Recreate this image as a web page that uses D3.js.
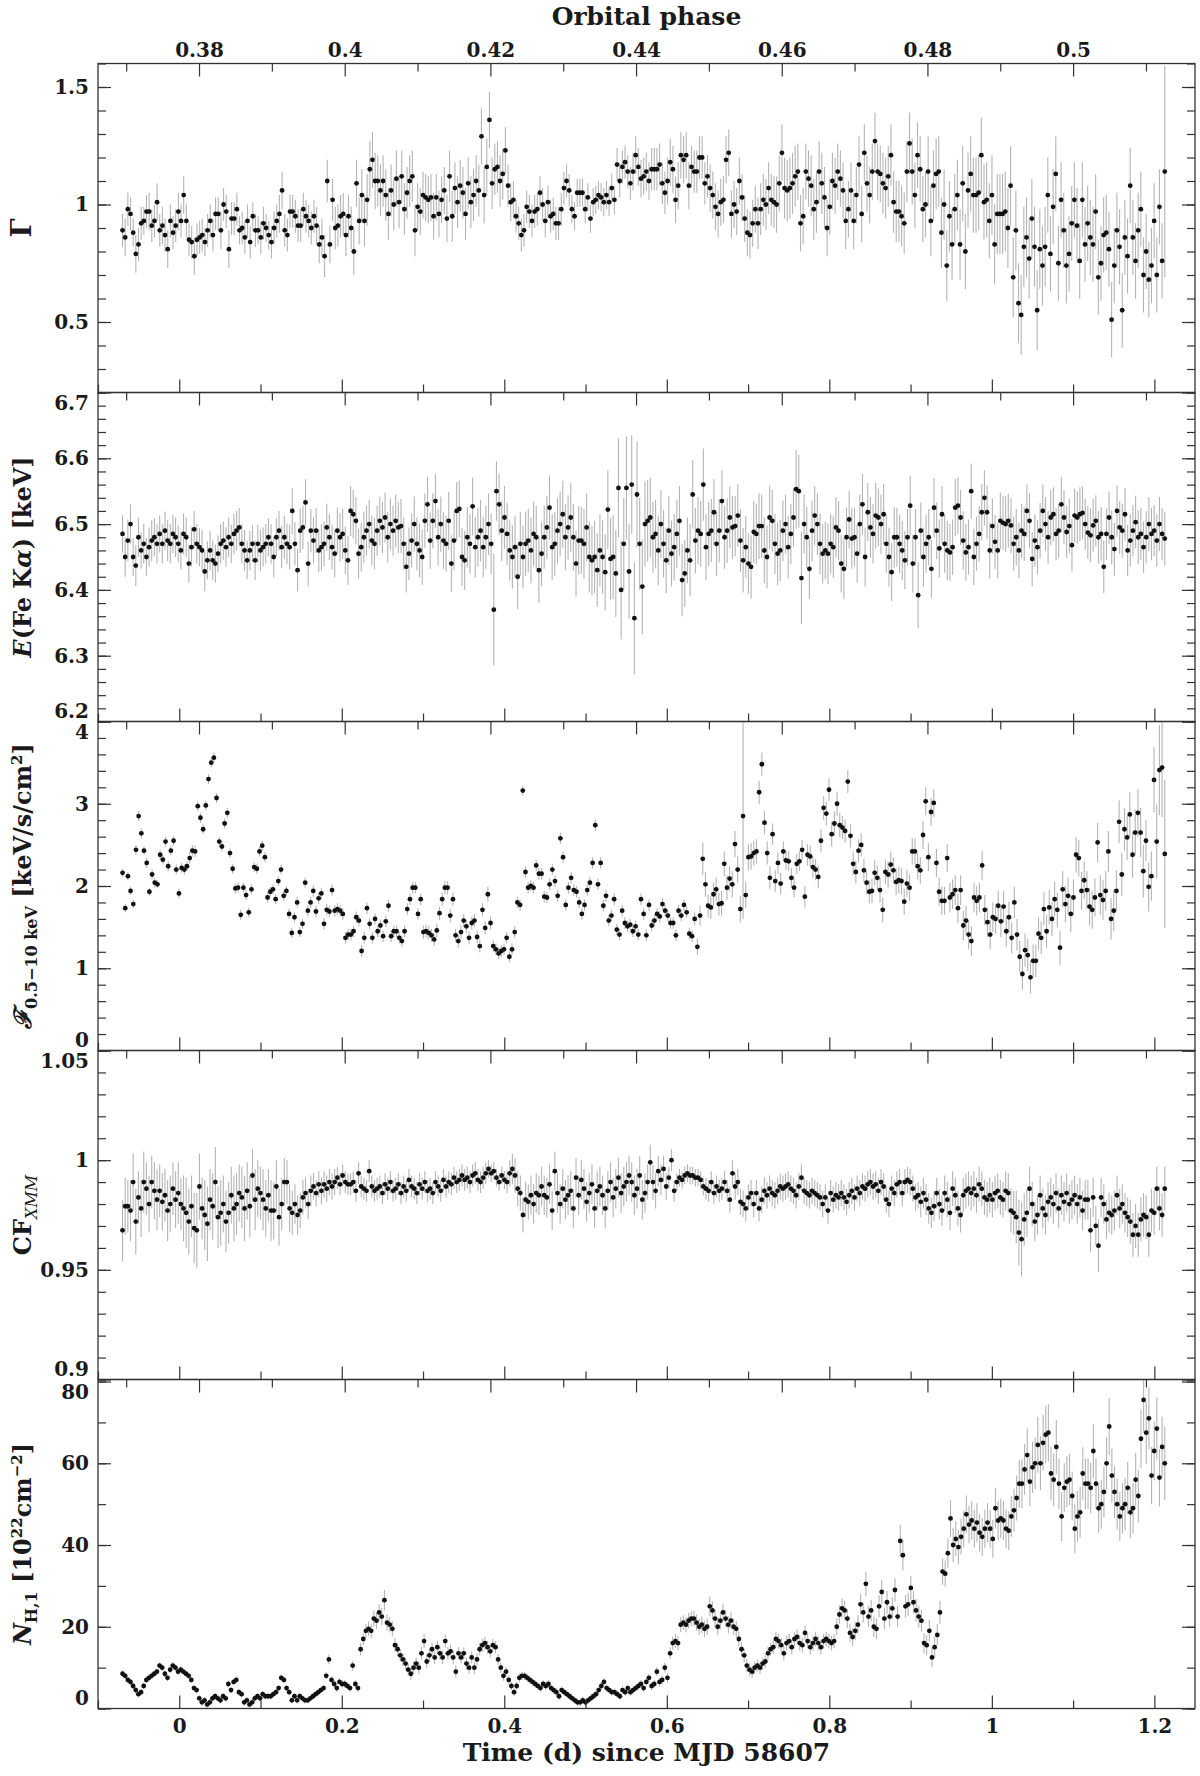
<!DOCTYPE html>
<meta charset="utf-8">
<script src="https://d3js.org/d3.v7.min.js"></script>
<style>
  body { margin: 0; background: #fff; }
</style>
<div id="my_dataviz"></div>
<script>

// time grid: centre of first and last bin, days since MJD 58607 (bins are evenly spaced)
const tFirst = -0.0698, tLast = 1.2128;
// ephemeris for the orbital phase axis on top
const orbitalPeriod = 8.964, phaseRefTime = 1.1, phaseRefPhase = 0.5;

// axis ticks
const timeMajor = [0, 0.2, 0.4, 0.6, 0.8, 1, 1.2];
const timeMinor = [-0.1, 0.1, 0.3, 0.5, 0.7, 0.9, 1.1];
const phaseMajor = [0.38, 0.40, 0.42, 0.44, 0.46, 0.48, 0.50];
const phaseMinor = [0.37, 0.39, 0.41, 0.43, 0.45, 0.47, 0.49, 0.51];

const gammaTicks = [0.5, 1, 1.5];
const energyTicks = [6.2, 6.3, 6.4, 6.5, 6.6, 6.7];
const fluxTicks = [0, 1, 2, 3, 4];
const cfTicks = [0.9, 0.95, 1, 1.05];
const nhTicks = [0, 20, 40, 60, 80];

// photon index
const gamma = [
  0.89,0.86,0.98,0.96,0.88,0.79,0.83,0.92,0.93,0.97,0.97,0.91,0.93,1.01,0.89,0.91,0.87,0.81,0.93,0.88,
  0.91,0.97,0.93,1.04,0.93,0.85,0.84,0.78,0.85,0.86,0.87,0.84,0.89,0.93,0.87,0.96,0.96,0.89,1.0,0.97,
  0.81,0.94,0.94,0.98,0.89,0.9,0.86,0.93,0.84,0.95,0.89,0.89,0.86,0.92,0.9,0.87,0.84,0.9,0.93,0.96,
  1.06,0.89,0.87,0.97,0.97,0.95,0.91,0.91,0.98,0.95,0.93,0.9,0.95,0.91,0.83,0.86,0.78,1.1,0.83,1.02,
  0.9,0.91,0.95,0.96,0.87,0.95,0.9,0.8,1.09,0.93,1.04,0.93,1.02,1.15,1.19,1.1,1.1,1.06,1.1,1.04,
  0.96,1.06,1.0,1.11,1.01,1.12,0.98,1.05,1.1,1.12,0.89,0.99,0.97,1.04,1.03,1.02,1.03,0.95,1.03,0.96,
  1.02,1.06,0.94,1.12,0.95,1.07,1.01,1.08,1.05,0.96,1.09,1.01,1.04,1.1,1.06,1.29,1.04,1.16,1.36,1.09,
  1.15,1.16,1.1,1.13,1.23,1.08,1.01,1.02,0.95,0.92,0.87,0.89,0.99,0.97,0.93,0.97,0.98,1.05,1.0,0.93,
  1.01,0.95,0.96,0.92,0.92,0.98,1.07,1.1,1.06,0.98,0.95,1.05,1.05,1.05,0.98,1.03,0.94,1.01,1.02,1.04,
  1.03,1.01,1.04,1.01,1.07,1.02,1.17,1.1,1.16,1.18,1.14,1.09,1.14,1.21,1.16,1.11,1.12,1.14,1.1,1.15,
  1.15,1.15,1.17,1.09,1.05,1.1,1.18,1.15,1.02,1.08,1.21,1.19,1.21,1.08,1.16,1.14,1.14,1.2,1.2,1.09,
  1.12,1.07,1.04,0.99,0.96,1.01,1.02,1.19,1.22,0.96,1.0,0.97,1.1,1.03,0.94,0.88,0.87,0.92,0.98,0.92,
  0.98,1.02,1.0,1.07,1.02,1.01,1.0,1.09,1.22,1.07,1.06,1.07,1.09,1.12,1.14,0.92,0.95,1.14,1.11,1.08,
  0.98,1.01,1.14,1.09,1.03,0.9,0.99,1.1,1.08,1.14,1.11,1.06,0.93,0.98,1.06,0.93,1.04,1.17,0.96,1.22,
  1.09,1.04,1.14,1.27,1.14,1.13,1.09,1.07,1.12,1.21,1.01,0.97,0.97,0.95,0.92,1.14,1.26,1.14,1.04,1.21,
  1.15,0.98,1.0,1.14,0.93,1.08,1.13,1.14,0.88,1.0,0.74,0.95,0.83,0.98,1.04,0.83,1.09,0.8,1.06,1.13,
  1.04,1.04,1.05,1.21,1.01,1.02,0.93,1.04,0.83,0.96,0.96,0.96,0.97,0.9,1.08,0.69,0.89,0.58,0.53,0.82,
  0.86,0.77,0.94,0.82,0.55,0.81,0.74,0.82,1.04,0.79,0.99,1.13,0.75,1.02,0.89,0.74,0.79,0.92,1.02,0.91,
  0.76,1.02,0.83,0.92,0.86,0.83,0.97,0.69,0.75,0.87,0.88,0.81,0.51,0.74,0.89,0.82,0.55,0.86,0.78,1.08,
  0.86,0.76,0.89,0.98,0.7,0.8,0.68,0.74,0.93,0.7,0.99,0.76,1.14
];
// 1 sigma, in units of 0.01
const gammaErr = [
  7,8,7,7,6,8,7,7,6,7,8,7,7,8,7,8,7,8,7,7,
  7,8,7,8,7,7,7,8,7,7,7,6,7,7,7,7,7,8,7,7,
  8,7,7,7,6,7,7,7,7,6,7,6,7,7,6,6,7,7,7,8,
  8,7,7,7,7,7,7,7,7,7,7,7,7,8,8,8,9,9,8,9,
  9,9,9,9,9,9,9,10,10,10,11,11,11,12,12,12,11,11,11,11,
  11,11,11,12,11,11,11,11,11,11,11,10,10,10,10,10,10,10,10,10,
  10,10,10,11,11,11,11,11,11,11,11,11,11,11,11,12,12,12,12,11,
  11,11,11,11,10,9,8,8,7,7,7,7,7,7,7,7,7,7,7,7,
  7,7,7,7,7,7,7,7,7,6,6,6,6,6,6,6,6,6,6,6,
  6,6,6,6,6,6,7,7,7,7,7,7,8,8,8,8,8,8,8,9,
  9,9,9,9,9,10,10,10,10,10,10,10,10,10,9,9,9,9,9,9,
  9,10,10,10,10,10,10,10,10,10,10,10,10,10,10,10,10,10,10,11,
  11,11,11,11,11,11,12,12,12,13,13,13,13,13,12,12,12,12,12,13,
  13,13,13,13,13,12,12,12,12,12,12,12,12,12,12,12,12,12,12,12,
  12,12,12,12,12,12,13,13,13,13,13,13,13,13,13,13,13,14,14,14,
  14,14,14,15,15,15,15,15,15,15,15,15,15,15,15,15,16,16,16,16,
  16,16,16,16,16,16,16,17,17,17,17,17,17,17,17,17,17,17,17,17,
  17,17,17,17,17,17,17,17,16,16,16,16,16,16,16,16,16,16,16,16,
  16,16,16,16,16,16,16,16,16,16,16,16,16,16,16,16,16,16,16,16,
  16,16,16,16,16,16,16,16,16,16,16,16,45
];

// Fe K alpha line energy (keV)
const energy = [
  6.485,6.45,6.475,6.5,6.45,6.437,6.48,6.46,6.47,6.45,6.465,6.475,6.48,6.47,6.485,6.47,6.49,6.475,6.47,6.485,
  6.48,6.47,6.46,6.485,6.48,6.44,6.465,6.492,6.47,6.465,6.46,6.428,6.445,6.46,6.445,6.44,6.455,6.47,6.475,6.465,
  6.48,6.47,6.485,6.49,6.495,6.47,6.46,6.445,6.46,6.47,6.445,6.47,6.46,6.465,6.47,6.48,6.47,6.45,6.48,6.49,
  6.465,6.48,6.47,6.465,6.52,6.47,6.43,6.49,6.495,6.533,6.44,6.49,6.475,6.49,6.46,6.465,6.47,6.495,6.48,6.465,
  6.455,6.49,6.48,6.485,6.46,6.445,6.52,6.515,6.505,6.455,6.465,6.48,6.49,6.5,6.475,6.47,6.49,6.505,6.495,6.51,
  6.48,6.5,6.49,6.505,6.495,6.497,6.47,6.435,6.455,6.475,6.5,6.47,6.46,6.45,6.505,6.53,6.475,6.505,6.535,6.48,
  6.5,6.475,6.47,6.505,6.44,6.475,6.52,6.523,6.45,6.445,6.48,6.47,6.527,6.465,6.48,6.49,6.465,6.48,6.5,6.47,
  6.37,6.55,6.53,6.49,6.51,6.485,6.46,6.45,6.465,6.42,6.47,6.45,6.47,6.475,6.46,6.485,6.48,6.43,6.455,6.48,
  6.495,6.525,6.465,6.47,6.49,6.5,6.515,6.48,6.495,6.51,6.48,6.44,6.475,6.475,6.47,6.495,6.45,6.445,6.45,6.43,
  6.46,6.45,6.427,6.522,6.447,6.45,6.425,6.555,6.4,6.47,6.555,6.428,6.56,6.357,6.545,6.47,6.405,6.5,6.505,6.51,
  6.48,6.485,6.46,6.5,6.47,6.445,6.49,6.455,6.465,6.485,6.505,6.415,6.425,6.46,6.445,6.545,6.475,6.49,6.485,6.56,
  6.465,6.485,6.49,6.518,6.47,6.49,6.535,6.48,6.49,6.51,6.495,6.497,6.513,6.475,6.445,6.465,6.44,6.435,6.488,6.485,
  6.497,6.497,6.46,6.45,6.51,6.505,6.47,6.455,6.46,6.49,6.5,6.465,6.485,6.51,6.553,6.55,6.418,6.5,6.48,6.432,
  6.49,6.513,6.5,6.47,6.455,6.46,6.455,6.47,6.465,6.495,6.49,6.44,6.432,6.48,6.507,6.478,6.48,6.455,6.5,6.53,
  6.45,6.518,6.495,6.485,6.513,6.51,6.5,6.515,6.47,6.45,6.427,6.48,6.48,6.47,6.46,6.445,6.48,6.528,6.44,6.48,
  6.392,6.49,6.45,6.47,6.48,6.432,6.525,6.49,6.463,6.515,6.47,6.46,6.457,6.465,6.525,6.528,6.51,6.475,6.457,6.465,
  6.55,6.45,6.47,6.485,6.518,6.54,6.518,6.46,6.497,6.473,6.46,6.505,6.502,6.5,6.505,6.498,6.47,6.48,6.46,6.49,
  6.485,6.52,6.505,6.447,6.475,6.465,6.49,6.52,6.5,6.48,6.51,6.515,6.485,6.49,6.53,6.51,6.488,6.497,6.468,6.513,
  6.51,6.515,6.517,6.5,6.487,6.483,6.498,6.505,6.48,6.485,6.435,6.485,6.51,6.48,6.462,6.52,6.495,6.49,6.515,6.46,
  6.475,6.49,6.503,6.48,6.485,6.465,6.48,6.5,6.485,6.49,6.475,6.5,6.485,6.478
];
// 1 sigma, in units of 0.001 keV
const energyErr = [
  28,30,32,30,29,31,30,28,30,29,30,31,29,30,28,30,29,31,30,29,
  30,28,29,31,30,29,30,28,30,29,31,30,29,30,30,29,28,30,29,30,
  30,29,31,30,29,30,31,29,30,28,30,29,31,30,30,29,30,31,29,30,
  32,33,31,34,35,33,32,34,33,35,34,33,35,34,33,35,34,36,35,34,
  36,35,37,38,36,37,38,37,36,38,37,39,38,37,38,39,38,37,39,38,
  38,39,38,40,39,41,40,39,40,41,42,40,41,42,41,42,43,42,41,43,
  42,43,42,44,43,45,44,43,44,45,46,45,44,46,45,47,46,48,47,46,
  85,45,47,46,48,47,46,48,47,49,48,47,49,48,50,49,48,50,49,48,
  48,49,50,48,50,49,51,50,49,52,51,50,52,51,53,52,54,53,55,56,
  55,56,58,60,62,64,66,75,75,70,78,72,75,85,80,70,72,65,62,60,
  54,52,53,52,51,50,52,50,51,52,53,55,51,50,55,52,50,51,50,55,
  50,49,48,50,49,48,47,48,49,47,48,46,47,48,49,47,46,48,47,46,
  50,48,50,48,48,47,46,48,47,46,45,47,46,45,60,55,70,45,46,46,
  46,45,47,46,45,44,46,45,47,46,45,44,46,45,44,46,45,44,45,46,
  45,44,46,45,50,44,45,46,44,45,44,46,45,44,45,44,43,45,44,43,
  50,43,45,44,43,44,45,43,44,43,44,45,43,42,44,43,42,44,43,42,
  42,43,41,42,43,42,41,43,42,41,42,43,41,42,41,42,41,43,42,41,
  41,40,42,41,40,41,42,40,41,40,42,41,40,41,42,41,40,41,40,41,
  40,41,40,39,40,41,40,39,40,41,40,39,40,41,40,39,40,41,40,39,
  40,39,40,41,40,39,40,41,40,39,40,41,40,41
];

// 0.5-10 keV flux
const flux = [
  2.16,1.73,2.12,1.94,1.78,2.44,2.85,2.64,2.43,2.28,1.93,2.14,2.04,2.02,2.38,2.32,2.54,2.24,2.43,2.55,
  2.2,1.91,2.22,2.2,2.24,2.34,2.43,2.42,2.97,2.83,2.69,2.98,3.3,3.5,3.56,3.07,2.54,2.48,2.76,2.89,
  2.4,2.21,1.97,1.98,1.65,1.98,1.89,1.68,1.96,2.23,2.21,2.42,2.49,2.35,1.86,1.93,1.96,1.84,2.06,2.2,
  1.88,1.94,1.66,1.43,1.62,1.8,1.44,1.54,2.04,1.7,1.8,1.94,1.69,1.85,1.91,1.54,1.71,1.69,1.95,1.7,
  1.72,1.7,1.66,1.37,1.41,1.41,1.45,1.62,1.58,1.21,1.37,1.73,1.54,1.37,1.6,1.45,1.52,1.39,1.57,1.76,
  1.39,1.45,1.45,1.37,1.33,1.45,1.72,1.84,1.98,1.98,1.66,1.84,
  1.44,1.45,1.43,1.4,1.35,1.46,1.67,1.84,1.98,1.98,
  1.64,1.84,1.4,1.33,1.44,1.58,1.51,1.37,1.55,1.58,
  1.38,1.27,1.71,1.49,1.9,1.55,1.27,1.23,1.18,1.21,
  1.23,1.37,1.14,1.23,1.44,1.8,1.77,3.16,2.17,1.98,
  2.0,1.98,2.25,2.15,2.15,1.87,1.86,2.02,2.2,2.06,
  1.88,2.58,2.35,1.77,1.98,2.1,1.95,1.93,1.8,1.66,
  1.77,1.95,2.04,2.28,2.74,2.02,2.28,1.76,1.88,1.58,
  1.64,1.84,1.47,1.41,1.7,1.55,1.51,1.53,1.45,1.51,
  1.41,1.84,1.66,1.4,1.77,1.52,1.58,1.66,1.63,1.78,
  1.7,1.64,1.55,1.55,1.4,1.7,1.64,1.77,1.68,1.42,
  1.39,1.6,1.26,1.64,2.33,2.02,1.76,1.74,1.9,1.96,
  1.78,
  1.79,2.27,1.98,2.09,2.02,2.51,2.2,1.72,2.85,1.89,2.35,2.36,2.4,2.42,3.14,3.48,2.77,2.4,
  2.1,2.63,2.06,2.28,2.03,2.42,2.31,2.3,2.1,1.98,2.27,2.3,2.44,1.87,2.38,2.36,2.23,2.2,2.11,2.55,
  2.95,2.88,3.17,2.63,2.76,3.0,2.74,2.71,2.67,3.27,2.61,2.27,2.17,2.43,2.5,2.19,2.04,1.93,1.94,2.16,
  2.1,1.95,1.71,2.17,2.14,2.26,2.19,2.05,2.07,2.06,1.81,2.03,1.98,2.42,2.42,2.24,2.19,2.62,3.03,2.35,
  2.9,3.01,2.28,1.93,1.82,1.82,2.34,1.86,1.9,1.95,1.73,1.95,1.52,1.58,1.41,1.33,1.86,1.82,1.86,2.25,
  1.71,1.56,1.41,1.62,1.6,1.76,1.57,1.75,1.45,1.62,1.37,1.8,1.41,1.14,0.93,1.22,1.16,0.89,1.09,1.09,
  1.42,1.37,1.72,1.45,1.74,1.6,1.84,1.71,1.25,1.96,1.78,1.88,1.66,1.86,2.38,2.34,1.94,2.07,1.95,1.75,
  1.71,1.86,2.53,1.89,1.83,1.94,2.42,1.6,1.7,1.94,2.78,2.14,2.69,2.59,2.87,2.38,2.65,2.89,2.65,2.18,
  2.55,1.99,2.12,3.29,2.54,3.41,3.44,2.39
];
// 1 sigma, in units of 0.01
const fluxErr = [
  5,5,5,5,5,6,6,6,5,6,5,6,6,5,6,6,6,6,6,6,
  6,6,6,6,6,7,7,7,6,6,6,6,6,6,6,6,6,6,6,6,
  6,6,6,6,6,6,6,6,6,6,6,6,6,6,6,6,6,6,6,6,
  6,6,6,6,6,6,6,6,6,7,7,7,7,7,7,7,7,7,7,7,
  7,7,7,7,7,7,7,7,7,7,7,7,7,7,7,7,7,7,7,7,
  7,7,7,7,7,7,7,7,7,7,7,7,
  8,8,8,8,8,8,8,8,8,8,
  8,8,8,8,8,8,8,8,8,8,
  8,8,8,8,9,8,7,7,7,7,
  7,7,7,7,7,7,7,6,7,7,
  7,7,7,7,7,7,7,7,7,7,
  7,7,7,7,7,7,7,7,7,7,
  7,7,7,7,7,7,7,7,7,7,
  7,7,7,7,7,7,7,7,7,7,
  7,7,7,7,7,7,7,7,7,7,
  7,7,7,7,7,7,7,7,7,7,
  7,8,10,12,20,15,14,14,14,14,
  14,
  15,15,15,15,16,16,16,16,125,16,16,16,15,15,14,14,14,14,
  14,13,13,13,13,12,12,12,12,12,12,12,12,13,13,13,13,13,14,14,
  14,14,14,15,15,15,15,14,14,14,14,14,14,14,14,14,14,14,15,15,
  15,15,15,15,16,16,16,16,16,16,16,16,16,16,16,16,16,17,17,17,
  17,17,17,17,17,17,17,18,18,18,18,18,18,18,18,18,18,18,18,18,
  18,18,18,18,18,18,19,19,19,19,19,19,19,19,19,20,20,20,20,20,
  20,20,20,20,21,21,21,21,21,22,22,22,22,22,22,22,23,23,23,23,
  23,23,24,24,24,24,25,25,25,25,26,26,26,27,27,28,28,29,30,32,
  25,30,30,40,45,55,60,90
];

// covering fraction
const covering = [
  0.968,0.979,0.979,0.977,0.99,0.972,0.983,0.978,0.99,0.987,0.98,0.99,0.986,0.982,0.986,0.981,0.984,0.977,0.98,0.987,
  0.982,0.985,0.98,0.978,0.976,0.972,0.979,0.969,0.968,0.988,0.978,0.975,0.971,0.982,0.979,0.99,0.974,0.976,0.98,0.972,
  0.976,0.984,0.978,0.98,0.985,0.983,0.978,0.986,0.979,0.993,0.982,0.987,0.985,0.982,0.978,0.984,0.977,0.977,0.988,0.974,
  0.98,0.99,0.99,0.978,0.976,0.98,0.975,0.977,0.983,0.985,0.98,0.986,0.988,0.985,0.989,0.986,0.989,0.987,0.99,0.988,
  0.99,0.992,0.989,0.993,0.99,0.989,0.989,0.99,0.986,0.994,0.988,0.987,0.986,0.995,0.988,0.986,0.987,0.988,0.985,0.989,
  0.987,0.99,0.986,0.987,0.989,0.985,0.988,0.986,0.991,0.988,0.987,0.985,0.989,0.987,0.99,0.986,0.987,0.985,0.99,0.988,
  0.986,0.991,0.988,0.99,0.989,0.992,0.99,0.991,0.993,0.991,0.992,0.99,0.993,0.994,0.991,0.99,0.992,0.994,0.996,0.994,
  0.995,0.992,0.99,0.993,0.991,0.99,0.994,0.996,0.993,0.987,0.985,0.975,0.982,0.981,0.984,0.98,0.985,0.984,0.988,0.984,
  0.983,0.989,0.977,0.995,0.985,0.98,0.987,0.982,0.984,0.986,0.978,0.992,0.984,0.991,0.987,0.981,0.985,0.989,0.978,0.986,
  0.988,0.984,0.978,0.986,0.99,0.983,0.987,0.992,0.985,0.988,0.99,0.993,0.99,0.984,0.987,0.993,0.982,0.985,0.99,0.999,
  0.99,0.986,0.995,0.991,0.996,0.988,0.992,1.0,0.986,0.99,0.992,0.991,0.993,0.994,0.993,0.993,0.992,0.992,0.991,0.988,
  0.987,0.986,0.99,0.985,0.988,0.986,0.987,0.99,0.986,0.982,0.994,0.988,0.99,0.981,0.98,0.978,0.983,0.985,0.98,0.985,
  0.978,0.982,0.986,0.984,0.987,0.985,0.984,0.986,0.988,0.987,0.988,0.989,0.987,0.986,0.984,0.988,0.992,0.986,0.985,0.984,
  0.986,0.985,0.984,0.983,0.98,0.983,0.977,0.985,0.982,0.984,0.983,0.985,0.983,0.981,0.984,0.986,0.983,0.987,0.985,0.988,
  0.987,0.989,0.99,0.988,0.989,0.986,0.99,0.988,0.982,0.98,0.987,0.985,0.989,0.99,0.985,0.99,0.991,0.99,0.987,0.983,
  0.984,0.981,0.985,0.982,0.978,0.976,0.979,0.985,0.98,0.977,0.985,0.982,0.976,0.987,0.984,0.978,0.975,0.984,0.986,0.987,
  0.985,0.987,0.984,0.989,0.987,0.983,0.982,0.984,0.982,0.985,0.986,0.983,0.982,0.986,0.985,0.977,0.976,0.974,0.967,0.964,
  0.973,0.976,0.987,0.98,0.972,0.975,0.984,0.978,0.975,0.981,0.983,0.98,0.985,0.978,0.984,0.981,0.985,0.98,0.982,0.984,
  0.98,0.983,0.977,0.982,0.982,0.968,0.983,0.97,0.961,0.983,0.98,0.973,0.976,0.975,0.977,0.984,0.978,0.98,0.976,0.974,
  0.972,0.966,0.97,0.966,0.973,0.975,0.974,0.966,0.977,0.976,0.987,0.978,0.975,0.987
];
// 1 sigma, in units of 0.001
const coveringErr = [
  14,13,12,14,13,15,12,13,14,12,13,12,13,14,12,13,12,14,13,12,
  13,14,12,15,16,15,14,16,17,15,14,16,17,14,15,16,14,15,13,14,
  14,13,15,14,13,14,15,13,14,12,14,13,12,14,13,12,14,13,12,13,
  12,11,10,11,10,9,9,8,8,7,7,7,6,6,6,6,6,6,6,6,
  6,5,5,5,5,5,5,5,5,5,5,5,5,5,5,5,5,5,5,5,
  5,5,5,5,5,5,5,5,5,5,5,5,5,5,5,5,5,5,5,5,
  5,5,5,5,5,5,5,5,5,5,5,5,5,5,5,5,5,5,4,4,
  4,4,4,4,4,5,6,7,8,8,8,8,8,8,9,9,9,9,9,9,
  9,9,9,9,9,9,9,9,9,9,9,9,9,9,9,9,9,9,9,9,
  9,9,9,9,9,9,9,9,9,9,9,9,9,9,9,9,9,9,8,8,
  8,8,7,7,6,6,5,5,5,4,4,4,4,4,4,4,4,4,4,4,
  5,5,5,5,5,5,5,5,5,6,6,6,6,6,6,6,6,6,6,6,
  6,6,6,6,6,6,6,6,6,6,6,6,6,6,6,6,6,6,6,6,
  6,6,6,6,6,6,6,6,6,6,6,6,6,6,6,6,6,6,6,6,
  6,6,6,6,6,6,6,6,6,6,6,6,6,6,6,6,6,6,6,6,
  6,7,7,7,7,7,7,7,7,7,8,8,8,8,8,8,8,8,8,8,
  8,8,8,8,8,8,8,8,8,8,8,8,8,9,9,10,10,12,15,17,
  12,11,10,10,9,9,9,9,9,9,9,9,9,9,9,9,9,9,9,9,
  9,9,9,9,9,10,9,9,12,9,9,9,9,9,9,9,9,9,9,9,
  10,10,10,10,10,10,10,10,10,10,10,10,10,10
];

// absorbing column N_H,1 (10^22 cm^-2)
const nh = [
  8.5,8,7,6.5,5.5,4.5,3.5,4,5.5,7,7.5,8,8.5,9,10.5,10,8.5,7.5,9.5,10.5,
  10,9,9.5,9,8.5,8,7,5,4.5,2.5,1.5,2,1,1.5,2.5,3,2.5,2,3,2.5,
  6,4.5,6.5,7,4,3.5,1.5,2,1,1.5,2.5,3,2.5,3.5,3,3,3,3.5,4,5,
  7.5,7,5,4,2,3,2,3,2.5,2,2,2.5,3,3.5,4,4.5,5,8,12,7,
  6,5,6.5,6,6,5.5,5,10.5,6,5,14.5,17,19,19.5,19,22,21.5,23.5,22.5,26.5,
  21,20.5,19.5,15.5,14.5,13,12,11,9.5,8.5,10,11,10,13.5,16.5,11.5,13,14.5,12.5,15,
  13.5,12.5,16.5,13.5,14,12.5,9,13.5,12.5,13.5,11,10,12.5,10,12,14.5,15.5,16,15,14,
  15.5,15,12,10,8,9,7,5.5,4,5.5,7.5,8,8,7.5,7,6.5,6,5.5,5,6,
  5.5,6,5,4.5,4,3,4.5,4,3.5,3,2.5,2,1.5,1.5,2,1.5,2,2.5,3,3.5,
  4.5,5.5,6.5,5,4.5,4,4,3.5,3,4.5,4,5,4,4.5,5,5.5,6,5,6.5,7.5,
  5.5,6,9,6.5,7,10,7.5,13.5,16,16.5,16,20.5,21,20.5,21.5,22,22,21,20,20.5,
  19.5,20,25,24,22,20,21.5,23.5,22,20.5,21.5,20,19.5,17,14.5,13,10.5,9.5,9,10,
  10.5,10,11,11.5,13.5,14.5,15,17,16.5,15.5,13.5,16,16.5,15,17,17.5,16,15.5,18.5,16.5,
  15,16,17,16,15,16.5,17,16.5,16,16.5,20,23,24.5,24,22,18.5,17.5,19,20.5,25.5,
  23.5,30.5,22.5,24,20,19.5,25,28.5,22,26,22.5,24.5,29,22.5,41,37.5,25,25.5,29.5,26,
  24,22.5,21.5,16,15.5,19,12.5,15,18,23.5,33.5,33,38,46.5,40,41.5,39.5,42,44,47.5,
  45,46,44,45.5,43,42,44,45.5,44,41.5,49,46,46.5,46,44,43.5,47,48.5,51.5,55,
  55,58.5,62,55.5,59,60,64.5,60,65,67,67.5,57.5,56,64,55,47,54,55.5,56,52,
  44,47,48,57.5,55,55,54,63,55,49,50,53,60,69,57,53,50,47,49,50,
  54,48,49,56,52,66,75.5,67.5,71,57,63,68.5,56.5,64,60
];
// 1 sigma, in units of 0.1
const nhErr = [
  8,8,8,8,8,8,8,8,8,8,8,8,8,8,8,8,8,8,8,8,
  8,8,8,8,8,8,8,8,8,8,8,8,8,8,8,8,8,8,8,8,
  8,8,8,8,8,8,8,8,8,8,8,8,8,8,8,8,8,8,8,8,
  8,8,8,8,8,8,8,8,8,8,8,8,8,8,8,8,8,8,12,8,
  9,9,9,9,9,9,9,12,9,9,15,16,17,18,18,20,20,20,21,25,
  20,19,18,17,16,15,15,15,15,15,15,15,15,16,17,16,16,16,16,16,
  16,16,16,16,16,16,15,15,15,15,15,15,15,15,15,15,16,16,16,15,
  15,15,14,13,12,12,11,10,10,10,10,10,10,10,10,9,9,9,9,9,
  9,9,9,9,9,9,9,9,9,9,9,9,9,9,9,9,9,9,9,9,
  9,9,9,9,9,9,9,9,9,9,9,9,9,9,9,9,9,9,9,10,
  10,10,11,11,11,12,12,14,16,17,17,18,18,19,19,19,20,20,20,20,
  20,20,24,22,22,21,21,21,21,21,20,20,20,19,18,17,16,15,15,15,
  15,15,15,15,16,16,17,18,18,18,18,18,18,18,18,18,18,18,18,18,
  18,18,18,18,18,18,18,18,18,18,20,22,24,24,23,22,22,22,23,25,
  25,30,26,26,25,25,27,29,26,28,26,27,29,26,40,38,28,28,30,28,
  28,27,27,25,25,26,24,25,26,28,32,32,36,45,42,43,42,44,45,46,
  46,47,46,47,46,46,47,48,46,46,50,48,48,48,47,47,50,52,55,58,
  60,62,65,60,63,64,68,66,68,70,70,66,64,66,62,60,60,62,62,60,
  60,62,62,64,62,62,62,66,62,60,60,62,64,70,66,64,62,60,62,64,
  64,62,62,66,64,72,80,76,76,70,72,76,70,74,90
];

// page geometry
const width = 1200, height = 1776;
const plotLeft = 98, plotRight = 1195, plotTop = 63.5, panelH = 329;
const fontFamily = "'DejaVu Serif', serif";
const axisColor = "#333";

// a regular range of tick positions, rounded to avoid float noise
function steps(lo, hi, step) {
  return d3.range(lo, hi + step / 2, step).map(v => +v.toFixed(4));
}

// title builders (rotated y labels)
function sub(t, s) { t.append("tspan").attr("font-size", 16).attr("dy", 6).text(s); }
function sup(t, s) { t.append("tspan").attr("font-size", 15).attr("dy", -9).text(s); }

const panels = [
  { values: gamma, errors: gammaErr, unit: 0.01, domain: [0.2, 1.6], major: gammaTicks, minor: steps(0.2, 1.6, 0.1),
    title: t => t.append("tspan").attr("font-size", 27).text("Γ") },
  { values: energy, errors: energyErr, unit: 0.001, domain: [6.2, 6.7], major: energyTicks, minor: steps(6.2, 6.7, 0.02),
    title: t => {
      t.append("tspan").attr("font-style", "italic").text("E");
      t.append("tspan").text("(Fe K");
      t.append("tspan").attr("font-style", "italic").text("α");
      t.append("tspan").text(") [keV]");
    } },
  { values: flux, errors: fluxErr, unit: 0.01, domain: [0, 4], major: fluxTicks, minor: steps(0, 4, 0.2),
    title: t => {
      t.append("tspan").attr("font-style", "italic").text("ℱ");
      sub(t, "0.5−10 keV");
      t.append("tspan").attr("dy", -6).text(" [keV/s/cm");
      sup(t, "2");
      t.append("tspan").attr("dy", 9).text("]");
    } },
  { values: covering, errors: coveringErr, unit: 0.001, domain: [0.9, 1.05], major: cfTicks, minor: steps(0.9, 1.05, 0.01),
    title: t => {
      t.append("tspan").text("CF");
      t.append("tspan").attr("font-size", 16).attr("font-style", "italic").attr("font-weight", "normal").attr("dy", 6).text("XMM");
    } },
  { values: nh, errors: nhErr, unit: 0.1, domain: [0, 80.5], major: nhTicks, minor: steps(0, 80, 10),
    title: t => {
      t.append("tspan").attr("font-style", "italic").text("N");
      sub(t, "H,1");
      t.append("tspan").attr("dy", -6).text(" [10");
      sup(t, "22");
      t.append("tspan").attr("dy", 9).text("cm");
      sup(t, "−2");
      t.append("tspan").attr("dy", 9).text("]");
    } }
];

const svg = d3.select("#my_dataviz")
  .append("svg")
    .attr("width", width)
    .attr("height", height)
    .style("background", "#fff");

const x = d3.scaleLinear().domain([-0.1, 1.25]).range([plotLeft, plotRight]);
const toPhase = t => phaseRefPhase + (t - phaseRefTime) / orbitalPeriod;
const xPhase = d3.scaleLinear().domain([toPhase(-0.1), toPhase(1.25)]).range([plotLeft, plotRight]);
const fmt = d3.format("~g");

function styleAxis(sel) {
  sel.select(".domain").remove();
  sel.attr("color", axisColor)
    .attr("font-family", fontFamily)
    .attr("font-weight", "bold")
    .attr("font-size", 20);
  sel.selectAll(".tick line").attr("stroke-width", 1.2);
  sel.selectAll(".tick text").attr("fill", "#1a1a1a");
}

panels.forEach(function(p, i) {
  const g = svg.append("g").attr("transform", `translate(0,${plotTop + i * panelH})`);
  const y = d3.scaleLinear().domain(p.domain).range([panelH, 0]);
  const tIndex = d3.scaleLinear().domain([0, p.values.length - 1]).range([tFirst, tLast]);
  const data = p.values.map((v, k) => ({ t: tIndex(k), v: v, e: (p.errors[k] || 0) * p.unit }));

  g.append("clipPath").attr("id", "clip" + i)
    .append("rect")
      .attr("x", plotLeft).attr("y", 0)
      .attr("width", plotRight - plotLeft).attr("height", panelH);

  const plot = g.append("g").attr("clip-path", `url(#clip${i})`);

  // error bars
  plot.append("g")
    .selectAll("line")
    .data(data)
    .join("line")
      .attr("x1", d => x(d.t)).attr("x2", d => x(d.t))
      .attr("y1", d => y(d.v - d.e)).attr("y2", d => y(d.v + d.e))
      .attr("stroke", "#b4b4b4")
      .attr("stroke-width", 1.1);

  // points
  plot.append("g")
    .selectAll("circle")
    .data(data)
    .join("circle")
      .attr("cx", d => x(d.t))
      .attr("cy", d => y(d.v))
      .attr("r", 2.4)
      .attr("fill", "#111");

  // left axis
  const left = g.append("g").attr("transform", `translate(${plotLeft},0)`)
    .call(d3.axisLeft(y).tickValues(p.major).tickSizeInner(-13).tickSizeOuter(0).tickPadding(9).tickFormat(fmt));
  styleAxis(left);
  const span = p.domain[1] - p.domain[0];
  left.selectAll(".tick text").attr("dy", function(d) {
    if (Math.abs(d - p.domain[1]) < span * 0.01) return "17px";
    if (Math.abs(d - p.domain[0]) < span * 0.01) return "-4.5px";
    return "0.32em";
  });
  styleAxis(g.append("g").attr("transform", `translate(${plotLeft},0)`)
    .call(d3.axisLeft(y).tickValues(p.minor).tickSizeInner(-8).tickSizeOuter(0).tickFormat("")));

  // right axis
  styleAxis(g.append("g").attr("transform", `translate(${plotRight},0)`)
    .call(d3.axisRight(y).tickValues(p.major).tickSizeInner(-13).tickSizeOuter(0).tickFormat("")));
  styleAxis(g.append("g").attr("transform", `translate(${plotRight},0)`)
    .call(d3.axisRight(y).tickValues(p.minor).tickSizeInner(-8).tickSizeOuter(0).tickFormat("")));

  // bottom: time ticks
  const last = i === panels.length - 1;
  styleAxis(g.append("g").attr("transform", `translate(0,${panelH})`)
    .call(d3.axisBottom(x).tickValues(timeMajor).tickSizeInner(-13).tickSizeOuter(0).tickPadding(10)
      .tickFormat(last ? fmt : "")));
  styleAxis(g.append("g").attr("transform", `translate(0,${panelH})`)
    .call(d3.axisBottom(x).tickValues(timeMinor).tickSizeInner(-8).tickSizeOuter(0).tickFormat("")));

  // top: orbital phase ticks
  styleAxis(g.append("g")
    .call(d3.axisTop(xPhase).tickValues(phaseMajor).tickSizeInner(-13).tickSizeOuter(0).tickPadding(7)
      .tickFormat(i === 0 ? fmt : "")));
  styleAxis(g.append("g")
    .call(d3.axisTop(xPhase).tickValues(phaseMinor).tickSizeInner(-8).tickSizeOuter(0).tickFormat("")));

  // frame
  g.append("rect")
    .attr("x", plotLeft).attr("y", 0)
    .attr("width", plotRight - plotLeft).attr("height", panelH)
    .attr("fill", "none")
    .attr("stroke", axisColor)
    .attr("stroke-width", 1.3);

  // y title
  const title = g.append("text")
    .attr("transform", `translate(31,${panelH / 2}) rotate(-90)`)
    .attr("text-anchor", "middle")
    .attr("font-family", fontFamily)
    .attr("font-weight", "bold")
    .attr("font-size", 24)
    .attr("fill", "#1a1a1a");
  p.title(title);
});

svg.append("text")
  .attr("x", (plotLeft + plotRight) / 2)
  .attr("y", 25)
  .attr("text-anchor", "middle")
  .attr("font-family", fontFamily)
  .attr("font-weight", "bold")
  .attr("font-size", 25)
  .attr("fill", "#1a1a1a")
  .text("Orbital phase");

svg.append("text")
  .attr("x", (plotLeft + plotRight) / 2)
  .attr("y", 1761)
  .attr("text-anchor", "middle")
  .attr("font-family", fontFamily)
  .attr("font-weight", "bold")
  .attr("font-size", 25)
  .attr("fill", "#1a1a1a")
  .text("Time (d) since MJD 58607");

</script>
